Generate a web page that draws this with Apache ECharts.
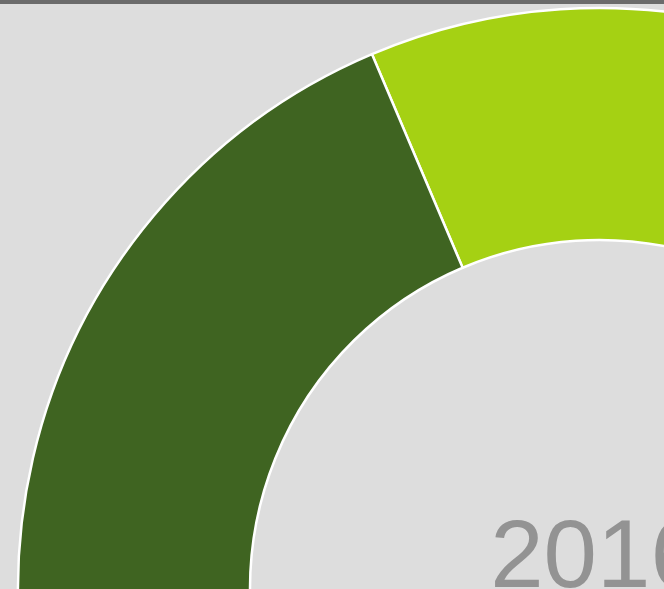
<!DOCTYPE html>
<html>
<head>
<meta charset="utf-8">
<script src="https://cdn.jsdelivr.net/npm/echarts@6/dist/echarts.min.js"></script>
<style>
  html, body { margin: 0; padding: 0; background: #dddddd; }
  #chart { width: 664px; height: 589px; }
</style>
</head>
<body>
<div id="chart"></div>
<script>
// slices run clockwise from the boundary at the upper left
var sliceNames = ['Segment A', 'Segment B', 'Segment C'];
var sliceValues = [22, 38, 40];
var sliceColors = ['#a5d113', '#7a9a2e', '#3f6421'];
var yearLabel = '2016';

var dom = document.getElementById('chart');
var pieChart = echarts.init(dom, null, { renderer: 'canvas' });

var pieData = [];
sliceNames.forEach(function (name, i) {
    pieData.push({
        name: name,
        value: sliceValues[i],
        itemStyle: { color: sliceColors[i] }
    });
});

var option = {
    backgroundColor: '#dddddd',
    animation: false,
    graphic: [
        {
            type: 'rect',
            left: 0,
            top: 0,
            shape: { width: 664, height: 4 },
            style: { fill: '#6b6b6b' },
            z: 10
        },
        {
            type: 'text',
            x: 597,
            y: 561,
            style: {
                text: yearLabel,
                fill: '#939393',
                font: '96px "Liberation Sans", Arial, sans-serif',
                textAlign: 'center',
                textVerticalAlign: 'middle'
            },
            z: 5
        }
    ],
    series: [
        {
            type: 'pie',
            center: [599, 589],
            radius: [349, 581],
            startAngle: 113,
            clockwise: true,
            silent: true,
            label: { show: false },
            labelLine: { show: false },
            itemStyle: {
                borderColor: '#ffffff',
                borderWidth: 2.5
            },
            data: pieData
        }
    ]
};

pieChart.setOption(option);

window.onresize = function () {
    pieChart.resize();
};
</script>
</body>
</html>
